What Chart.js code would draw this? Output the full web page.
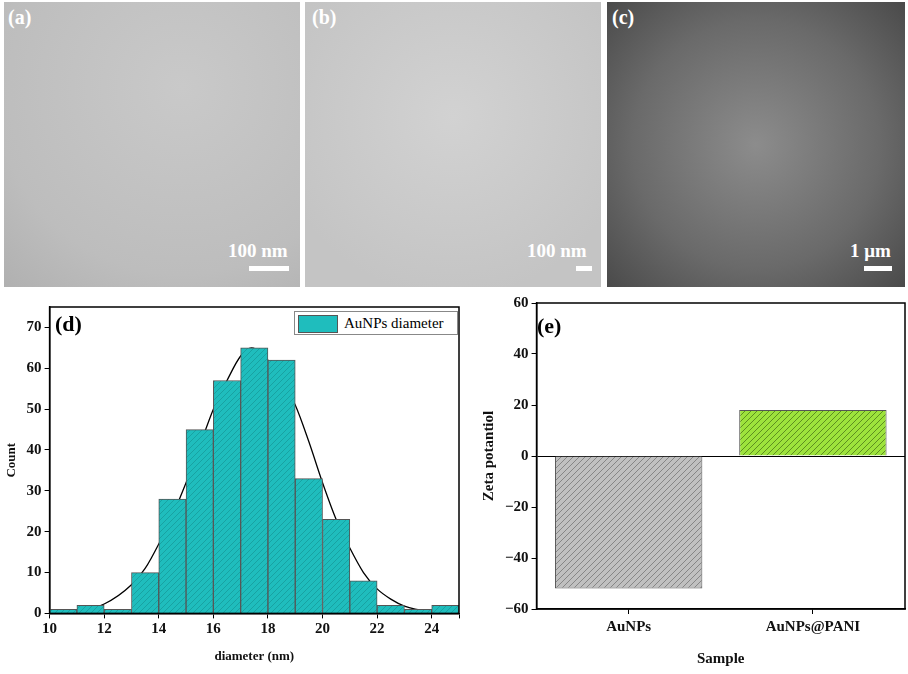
<!DOCTYPE html>
<html>
<head>
<meta charset="utf-8">
<script src="https://cdn.jsdelivr.net/npm/chart.js@4.4.1/dist/chart.umd.min.js"></script>
<style>
body { margin: 0; background: #fff; font-family: "Liberation Serif", serif; }
#wrap { position: relative; width: 908px; height: 674px; overflow: hidden; }
.img { position: absolute; top: 2px; height: 285px; }
.lab { position: absolute; font-weight: bold; font-size: 20px; }
.bar { position: absolute; height: 5px; background: #fff; }
canvas { position: absolute; }
#leg { position: absolute; left: 294px; top: 311px; width: 162px; height: 22px; border: 1px solid #888; background: #fff;
  font-size: 15px; line-height: 22px; }
#leg span { display: inline-block; width: 38px; height: 16px; margin: 3px 6px 0 3px; vertical-align: top; border: 1px solid #555; background: #1fbdbd; }
</style>
</head>
<body>
<div id="wrap">
  <div class="img" style="left:4px;width:296px;background:radial-gradient(circle at 60% 30%, #c9c9c9, #bdbdbd 70%, #b0b0b0);"></div>
  <div class="img" style="left:305px;width:296px;background:radial-gradient(circle at 50% 40%, #d2d2d2, #c4c4c4 80%);"></div>
  <div class="img" style="left:607px;width:298px;background:radial-gradient(circle at 50% 50%, #8c8c8c, #6a6a6a 60%, #4a4a4a);"></div>
  <div class="lab" style="left:8px;top:6px;color:#fff">(a)</div>
  <div class="lab" style="left:312px;top:6px;color:#fff">(b)</div>
  <div class="lab" style="left:612px;top:6px;color:#fff">(c)</div>
  <div class="lab" style="left:228px;top:240px;color:#fff;font-size:19px">100 nm</div>
  <div class="bar" style="left:249px;top:266px;width:40px"></div>
  <div class="lab" style="left:527px;top:240px;color:#fff;font-size:19px">100 nm</div>
  <div class="bar" style="left:576px;top:266px;width:16px"></div>
  <div class="lab" style="left:850px;top:240px;color:#fff;font-size:19px">1 μm</div>
  <div class="bar" style="left:864px;top:266px;width:28px"></div>

  <canvas id="cd" width="470" height="384" style="left:0;top:290px;width:470px;height:384px"></canvas>
  <canvas id="ce" width="432" height="384" style="left:476px;top:290px;width:432px;height:384px"></canvas>
  <div id="leg"><span></span>AuNPs diameter</div>
  <div class="lab" style="left:55px;top:311px;font-size:22px">(d)</div>
  <div class="lab" style="left:537px;top:313px;font-size:22px">(e)</div>
</div>
<script>
// histogram bins (centers) and counts
const binCenters = [10.5, 11.5, 12.5, 13.5, 14.5, 15.5, 16.5, 17.5, 18.5, 19.5, 20.5, 21.5, 22.5, 23.5, 24.5];
const binCounts = [1, 2, 1, 10, 28, 45, 57, 65, 62, 33, 23, 8, 2, 1, 2];
// fit curve
const fitX = [10.6, 11, 12, 13, 13.5, 14, 14.5, 15, 15.5, 16, 16.5, 17, 17.4, 18, 18.5, 19, 19.5, 20, 20.5, 21, 21.5, 22, 22.5, 23, 24, 24.2];
const fitY = [0.3, 0.6, 2.3, 7, 11, 17, 24, 32, 41, 50, 57, 63, 65, 62, 57, 51, 42, 32, 23, 16, 10, 6, 3.5, 1.8, 0.4, 0.3];
// zeta potential
const samples = ["AuNPs", "AuNPs@PANI"];
const zeta = [-52, 18];

function hatch(bg, line) {
  const c = document.createElement('canvas');
  c.width = 6; c.height = 6;
  const g = c.getContext('2d');
  g.fillStyle = bg; g.fillRect(0, 0, 6, 6);
  g.strokeStyle = line; g.lineWidth = 0.8;
  g.beginPath(); g.moveTo(0, 6); g.lineTo(6, 0); g.moveTo(-1, 1); g.lineTo(1, -1); g.moveTo(5, 7); g.lineTo(7, 5); g.stroke();
  return g.createPattern(c, 'repeat');
}

const frame = {
  id: 'frame',
  afterDraw(chart) {
    const a = chart.chartArea, g = chart.ctx;
    g.save(); g.strokeStyle = '#000'; g.lineWidth = 1.5;
    g.strokeRect(a.left, a.top, a.right - a.left, a.bottom - a.top);
    g.restore();
  }
};

const font = { family: "Liberation Serif", weight: 'bold', size: 15 };
Chart.defaults.color = '#111';

new Chart(document.getElementById('cd'), {
  data: {
    datasets: [{
      type: 'bar',
      data: binCenters.map((x, i) => ({ x: x, y: binCounts[i] })),
      backgroundColor: hatch('#1fbdbd', '#169a9a'),
      borderColor: '#555', borderWidth: 1,
      barPercentage: 1, categoryPercentage: 1, grouped: false
    }, {
      type: 'line',
      data: fitX.map((x, i) => ({ x: x, y: fitY[i] })),
      borderColor: '#000', borderWidth: 1.3, pointRadius: 0,
      cubicInterpolationMode: 'monotone'
    }]
  },
  options: {
    responsive: false, animation: false,
    layout: { padding: { top: 17, right: 11, bottom: 6 } },
    plugins: { legend: { display: false }, tooltip: { enabled: false } },
    scales: {
      x: {
        type: 'linear', min: 10, max: 25, offset: false,
        ticks: { stepSize: 2, font: font, autoSkip: false, padding: 2, callback: v => v % 2 === 0 && v < 25 ? v : '' },
        grid: { display: true, offset: false, drawOnChartArea: false, color: '#000', tickLength: 5 },
        border: { color: '#000', width: 1.5 },
        title: { display: true, text: 'diameter (nm)', font: { ...font, size: 13 }, padding: { top: 8 } }
      },
      y: {
        min: 0, max: 75,
        afterBuildTicks: s => { s.ticks = s.ticks.filter(t => t.value <= 70); },
        ticks: { stepSize: 10, font: font, autoSkip: false },
        grid: { display: true, drawOnChartArea: false, color: '#000', tickLength: 5 },
        border: { color: '#000', width: 1.5 },
        title: { display: true, text: 'Count', font: { ...font, size: 13 } }
      }
    }
  },
  plugins: [frame]
});

new Chart(document.getElementById('ce'), {
  type: 'bar',
  data: {
    labels: samples,
    datasets: [{
      data: zeta,
      backgroundColor: [hatch('#c0c0c0', '#777'), hatch('#9de33c', '#4d7a18')],
      borderColor: '#555', borderWidth: 1,
      barPercentage: 0.8, categoryPercentage: 1
    }]
  },
  options: {
    responsive: false, animation: false,
    layout: { padding: { top: 13, right: 3, bottom: 2 } },
    plugins: { legend: { display: false }, tooltip: { enabled: false } },
    scales: {
      x: {
        ticks: { font: font, padding: 4 },
        grid: { display: true, offset: false, drawOnChartArea: false, color: '#000', tickLength: 5 },
        border: { color: '#000', width: 1.5 },
        title: { display: true, text: 'Sample', font: { ...font, size: 15 }, padding: { top: 10 } }
      },
      y: {
        min: -60, max: 60,
        ticks: { stepSize: 20, font: font, autoSkip: false, callback: v => v < 0 ? '\u2212' + (-v) : v },
        grid: {
          display: true, drawOnChartArea: true, tickLength: 5,
          color: c => c.tick && c.tick.value === 0 ? '#000' : 'rgba(0,0,0,0)',
          tickColor: '#000'
        },
        border: { color: '#000', width: 1.5 },
        title: { display: true, text: 'Zeta potantiol', font: { ...font, size: 15 } }
      }
    }
  },
  plugins: [frame]
});
</script>
</body>
</html>
